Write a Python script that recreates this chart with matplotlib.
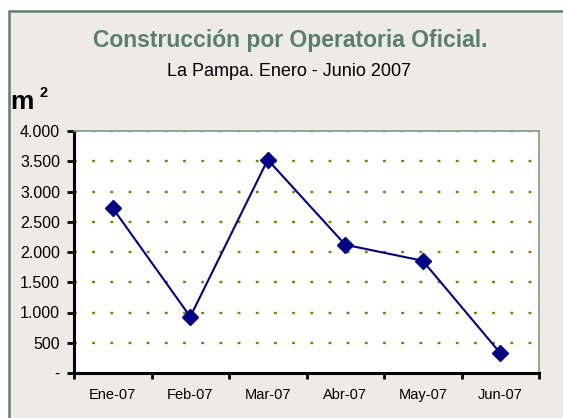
import matplotlib
matplotlib.use('Agg')
import matplotlib.pyplot as plt
from matplotlib.patches import Rectangle
from matplotlib.ticker import FixedLocator

# datos
meses = ["Ene-07", "Feb-07", "Mar-07", "Abr-07", "May-07", "Jun-07"]
metros = [2725, 930, 3525, 2120, 1855, 330]
y_ticks = [0, 500, 1000, 1500, 2000, 2500, 3000, 3500, 4000]
y_labels = ["-", "500", "1.000", "1.500", "2.000", "2.500", "3.000", "3.500", "4.000"]

plt.rcParams['font.family'] = ['Liberation Sans', 'DejaVu Sans']

W, H = 563, 418
fig = plt.figure(figsize=(W / 100, H / 100), dpi=100)
fig.patch.set_facecolor("white")

# fondo del grafico con borde
bg = Rectangle((9 / W, -0.05), 1.0, 0.05 + (H - 11) / H, transform=fig.transFigure,
               facecolor="#EEEAE6", edgecolor="#5F8070", linewidth=1.8, zorder=-1)
fig.add_artist(bg)

ax = fig.add_axes([74 / W, (H - 373) / H, 465 / W, 242 / H])
ax.set_facecolor("white")

x = list(range(len(meses)))
ax.plot(x, metros, color="#000080", linewidth=1.5, marker="D", markersize=8.5,
        markerfacecolor="#000080", markeredgecolor="#000080", zorder=3)

ax.set_xlim(-0.5, len(meses) - 0.5)
ax.set_ylim(0, 4000)

# grilla punteada
for v in y_ticks[1:-1]:
    ax.axhline(v, color="#808000", linestyle=(0, (1.2, 6.5)), linewidth=1.7, zorder=1)
ax.axhline(4000, color="#808000", linestyle=(0, (1.2, 6.5)), linewidth=1.7, zorder=2)

ax.set_yticks(y_ticks)
ax.set_yticklabels(y_labels, fontsize=11.5)
ax.set_xticks(x)
ax.set_xticklabels(meses, fontsize=10.5)
ax.xaxis.set_minor_locator(FixedLocator([i - 0.5 for i in range(len(meses) + 1)]))
ax.tick_params(axis="x", which="major", length=0, pad=11)
ax.tick_params(axis="x", which="minor", length=4, width=2, direction="out")
ax.tick_params(axis="y", length=5, width=2, direction="out", pad=5)

for s in ["left", "bottom"]:
    ax.spines[s].set_linewidth(2.2)
    ax.spines[s].set_color("black")
ax.spines["right"].set_color("#7A9A8A")
ax.spines["right"].set_linewidth(1.2)
ax.spines["top"].set_color("#7A9A8A")
ax.spines["top"].set_linewidth(1.2)

fig.text(290 / W, 1 - 41 / H, "Construcción por Operatoria Oficial.", ha="center", va="center",
         fontsize=16.5, fontweight="bold", color="#5A7F6A")
fig.text(289 / W, 1 - 71 / H, "La Pampa. Enero - Junio 2007", ha="center", va="center",
         fontsize=13, color="black")
fig.text(10 / W, 1 - 109 / H, "m", ha="left", va="baseline", fontsize=19, fontweight="bold")
fig.text(39 / W, 1 - 97 / H, "2", ha="left", va="baseline", fontsize=10.5, fontweight="bold")

fig.savefig("out.png", dpi=100, facecolor=fig.get_facecolor())
